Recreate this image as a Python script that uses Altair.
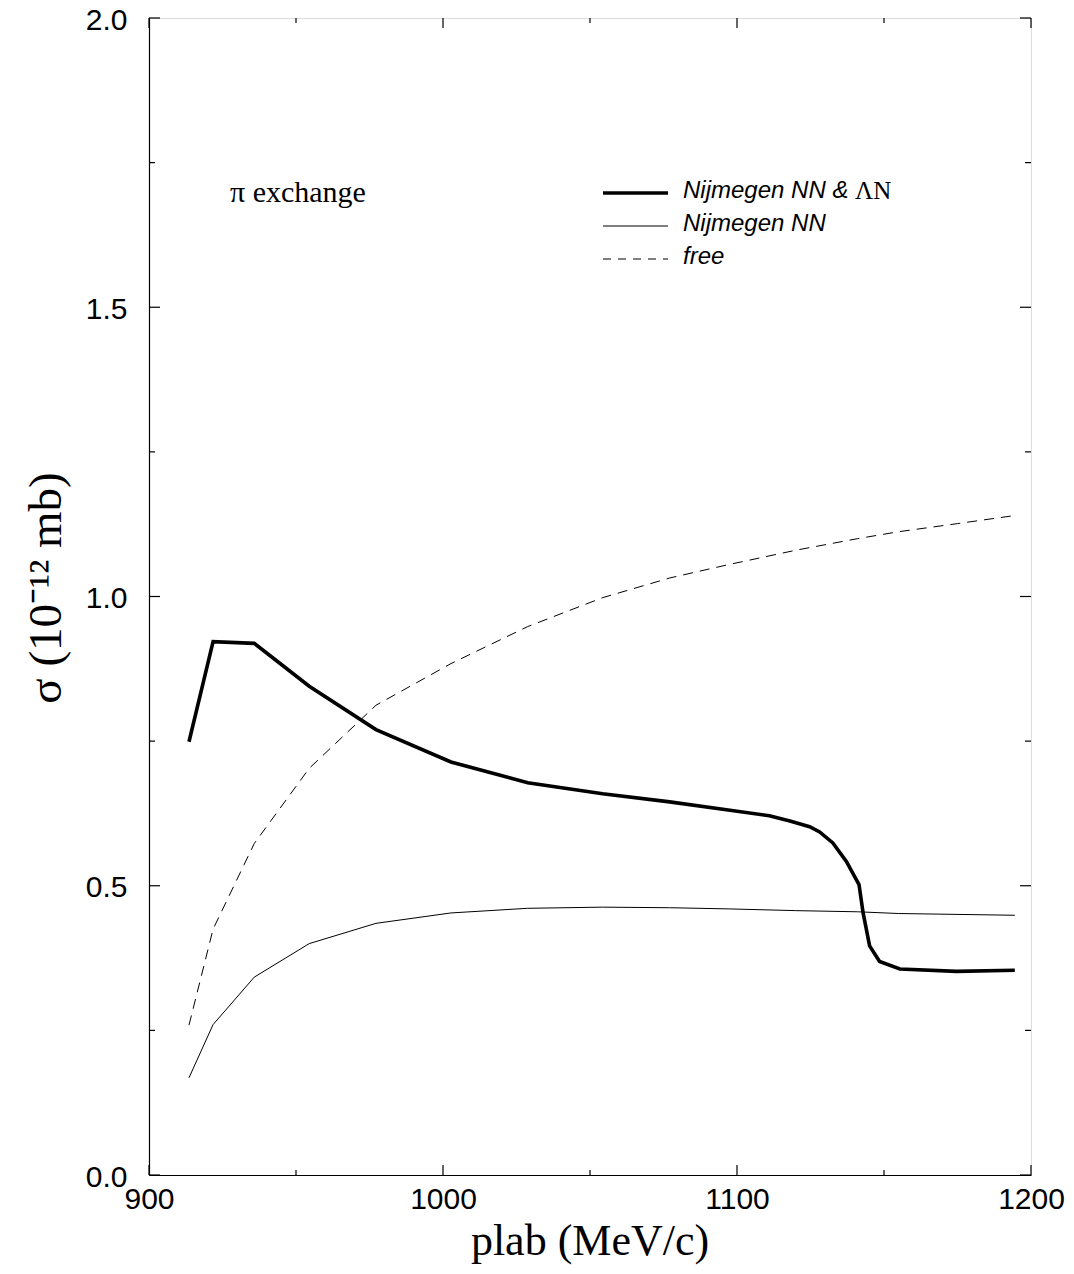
import altair as alt
import pandas as pd

# ---- data ----
thick_x = [913.6, 921.8, 935.8, 954.5, 977.2, 1002.7, 1028.8, 1054.3, 1077.1, 1097.0, 1111.0,
           1118.0, 1124.7, 1128.1, 1132.6, 1137.2, 1141.5, 1142.9, 1145.1, 1148.5, 1155.4, 1174.7, 1194.5]
thick_y = [0.749, 0.922, 0.919, 0.845, 0.770, 0.714, 0.678, 0.659, 0.645, 0.631, 0.621,
           0.612, 0.602, 0.593, 0.574, 0.542, 0.502, 0.453, 0.396, 0.369, 0.356, 0.352, 0.354]

thin_x = [913.6, 921.8, 935.8, 954.5, 977.2, 1002.7, 1028.8, 1054.3, 1077.1, 1097.0, 1120.0,
          1141.0, 1155.0, 1194.5]
thin_y = [0.168, 0.260, 0.342, 0.400, 0.435, 0.453, 0.461, 0.463, 0.462, 0.460, 0.457,
          0.455, 0.452, 0.449]

free_x = [913.6, 921.8, 935.8, 954.5, 977.2, 1002.7, 1028.8, 1054.3, 1077.1, 1097.0, 1120.0,
          1141.0, 1155.0, 1175.0, 1194.5]
free_y = [0.259, 0.425, 0.573, 0.703, 0.812, 0.884, 0.948, 0.998, 1.032, 1.055, 1.080,
          1.100, 1.112, 1.126, 1.140]

x_major = [900, 1000, 1100, 1200]
x_minor = [950, 1050, 1150]
y_major = [0.0, 0.5, 1.0, 1.5, 2.0]
y_minor = [0.25, 0.75, 1.25, 1.75]

legend_labels = ["Nijmegen NN &", "Nijmegen NN", "free"]

W, H = 882, 1157
SANS = "Liberation Sans"
SERIF = "Liberation Serif"

xs = alt.Scale(domain=[900, 1200], nice=False, zero=False)
ys = alt.Scale(domain=[0, 2], nice=False)

x_axis = alt.Axis(values=x_major, format="d", tickSize=0, grid=False, domainColor="black",
                  domainWidth=1.2, labelFont=SANS, labelFontSize=30, labelColor="black",
                  labelPadding=9, labelFlush=False, labelOverlap=False, title=None)
y_axis = alt.Axis(values=y_major, format=".1f", tickSize=0, grid=False, domainColor="black",
                  domainWidth=1.2, labelFont=SANS, labelFontSize=30, labelColor="black",
                  labelPadding=22, labelOffset=2, labelOverlap=False, title=None)

d_thick = pd.DataFrame({"x": thick_x, "y": thick_y})
d_thin = pd.DataFrame({"x": thin_x, "y": thin_y})
d_free = pd.DataFrame({"x": free_x, "y": free_y})

line_thick = alt.Chart(d_thick).mark_line(color="black", strokeWidth=3.6).encode(
    x=alt.X("x:Q", scale=xs, axis=x_axis), y=alt.Y("y:Q", scale=ys, axis=y_axis))
line_thin = alt.Chart(d_thin).mark_line(color="black", strokeWidth=1).encode(
    x=alt.X("x:Q", scale=xs), y=alt.Y("y:Q", scale=ys))
line_free = alt.Chart(d_free).mark_line(color="black", strokeWidth=1, strokeDash=[10, 7]).encode(
    x=alt.X("x:Q", scale=xs), y=alt.Y("y:Q", scale=ys))

# inward ticks on all four sides
def xticks(vals, length):
    d = pd.DataFrame({"t": vals})
    bot = alt.Chart(d).mark_rule(color="black", strokeWidth=1.2).encode(
        x=alt.X("t:Q", scale=xs), y=alt.value(H), y2=alt.value(H - length))
    top = alt.Chart(d).mark_rule(color="black", strokeWidth=1.2).encode(
        x=alt.X("t:Q", scale=xs), y=alt.value(0), y2=alt.value(length))
    return [bot, top]

def yticks(vals, length):
    d = pd.DataFrame({"t": vals})
    left = alt.Chart(d).mark_rule(color="black", strokeWidth=1.2).encode(
        y=alt.Y("t:Q", scale=ys), x=alt.value(0), x2=alt.value(length))
    right = alt.Chart(d).mark_rule(color="black", strokeWidth=1.2).encode(
        y=alt.Y("t:Q", scale=ys), x=alt.value(W), x2=alt.value(W - length))
    return [left, right]

ticks = xticks(x_major, 10) + xticks(x_minor, 5) + yticks(y_major, 11) + yticks(y_minor, 6)

# legend (drawn in the upper area)
one = pd.DataFrame({"k": [0]})
LX0, LX1, TX = 454, 519, 534
rows = [173, 206, 239]
leg = []
leg.append(alt.Chart(one).mark_rule(color="black", strokeWidth=3.6).encode(
    x=alt.value(LX0), x2=alt.value(LX1), y=alt.value(rows[0] + 2)))
leg.append(alt.Chart(one).mark_rule(color="black", strokeWidth=1).encode(
    x=alt.value(LX0), x2=alt.value(LX1), y=alt.value(rows[1] + 2)))
leg.append(alt.Chart(one).mark_rule(color="black", strokeWidth=1, strokeDash=[8, 7]).encode(
    x=alt.value(LX0), x2=alt.value(LX1), y=alt.value(rows[2] + 2)))
for lab, ry in zip(legend_labels, rows):
    leg.append(alt.Chart(pd.DataFrame({"t": [lab]})).mark_text(
        font=SANS, fontSize=24, fontStyle="italic", align="left", baseline="middle", color="black"
    ).encode(x=alt.value(TX), y=alt.value(ry), text="t:N"))
leg.append(alt.Chart(pd.DataFrame({"t": ["ΛN"]})).mark_text(
    font=SERIF, fontSize=25, align="left", baseline="middle", color="black"
).encode(x=alt.value(TX + 172), y=alt.value(rows[0]), text="t:N"))

annot = alt.Chart(pd.DataFrame({"t": ["π exchange"]})).mark_text(
    font=SERIF, fontSize=30, align="left", baseline="middle", color="black"
).encode(x=alt.value(81), y=alt.value(175), text="t:N")

xtitle = alt.Chart(pd.DataFrame({"t": ["plab (MeV/c)"]})).mark_text(
    font=SERIF, fontSize=44, align="center", baseline="alphabetic", color="black"
).encode(x=alt.value(W / 2), y=alt.value(1237), text="t:N")

ytitle = alt.Chart(pd.DataFrame({"t": ["σ (10⁻¹² mb)"]})).mark_text(
    font=SERIF, fontSize=47, align="center", baseline="middle", angle=270, color="black"
).encode(x=alt.value(-102), y=alt.value(570), text="t:N")

chart = alt.layer(line_free, line_thin, line_thick, *ticks, *leg, annot, xtitle, ytitle).properties(
    width=W, height=H,
    autosize=alt.AutoSizeParams(type="none"),
    padding={"left": 141, "top": 10, "right": 34, "bottom": 92},
).configure_view(stroke="black", strokeWidth=1.2).configure(background="white")

chart.save("out.html", embed_options={"renderer": "svg", "actions": False})
